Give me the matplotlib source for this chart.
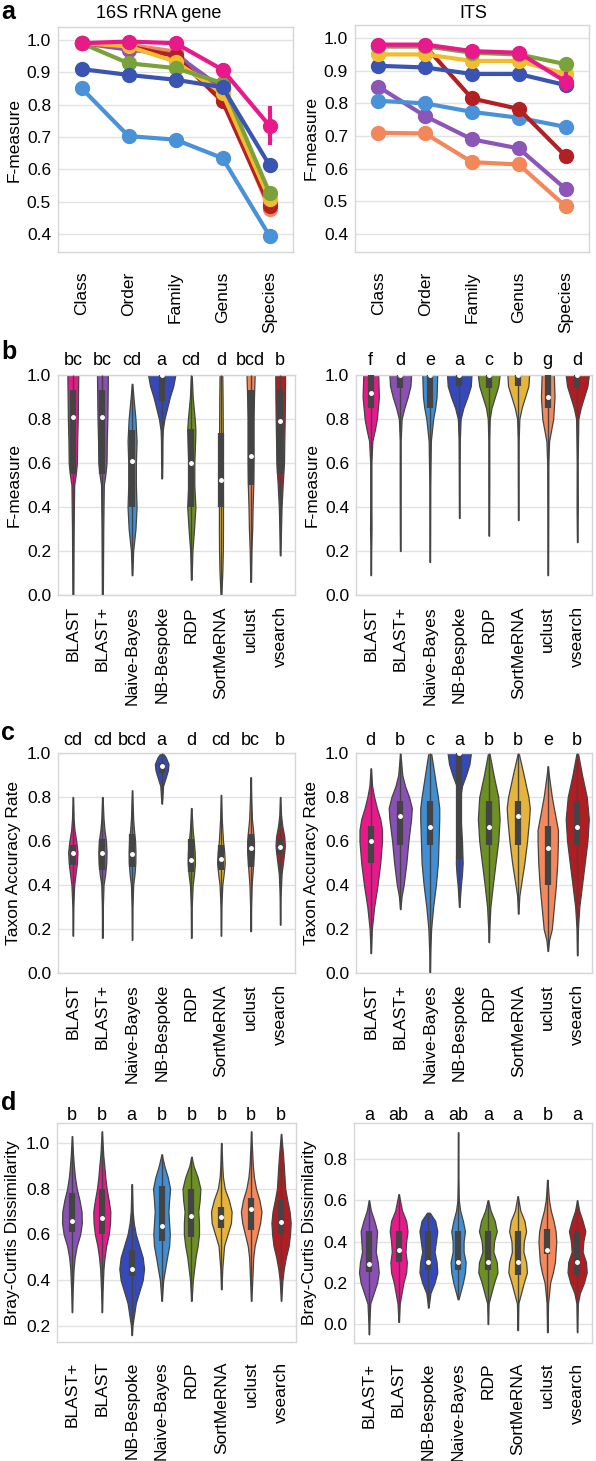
import numpy as np
import matplotlib
matplotlib.use('Agg')
import matplotlib.pyplot as plt

plt.rcParams['font.family'] = ['Liberation Sans', 'DejaVu Sans']

ranks = ['Class', 'Order', 'Family', 'Genus', 'Species']
methods = ['BLAST', 'BLAST+', 'Naive-Bayes', 'NB-Bespoke', 'RDP', 'SortMeRNA', 'uclust', 'vsearch']
methods_d = ['BLAST+', 'BLAST', 'NB-Bespoke', 'Naive-Bayes', 'RDP', 'SortMeRNA', 'uclust', 'vsearch']

pal = {'BLAST': '#e8198b', 'BLAST+': '#8a50b4', 'Naive-Bayes': '#3f8fd6',
       'NB-Bespoke': '#3649b8', 'RDP': '#6e8f22', 'SortMeRNA': '#e6b43c',
       'uclust': '#f4885a', 'vsearch': '#b01e23'}
line_pal = {'BLAST': '#e8198b', 'BLAST+': '#8c55b8', 'Naive-Bayes': '#4a92d8',
            'NB-Bespoke': '#3a54b4', 'RDP': '#7aa23a', 'SortMeRNA': '#f2bc2e',
            'uclust': '#f2875a', 'vsearch': '#b32024'}
EDGE = '#444444'

# ---- panel a: mean F-measure per rank
a16 = {
  'Naive-Bayes': [0.851, 0.703, 0.692, 0.635, 0.395],
  'uclust':      [0.99, 0.985, 0.964, 0.826, 0.477],
  'BLAST+':      [0.99, 0.97, 0.955, 0.85, 0.50],
  'vsearch':     [0.99, 0.98, 0.95, 0.81, 0.487],
  'SortMeRNA':   [0.99, 0.98, 0.933, 0.835, 0.508],
  'RDP':         [0.99, 0.928, 0.913, 0.867, 0.528],
  'NB-Bespoke':  [0.91, 0.892, 0.877, 0.854, 0.613],
  'BLAST':       [0.99, 0.995, 0.99, 0.908, 0.735],
}
a16_blast_err = [0.0, 0.008, 0.008, 0.02, 0.06]
aits = {
  'uclust':      [0.71, 0.708, 0.62, 0.613, 0.485],
  'BLAST+':      [0.851, 0.761, 0.69, 0.662, 0.538],
  'Naive-Bayes': [0.808, 0.80, 0.774, 0.756, 0.728],
  'vsearch':     [0.975, 0.975, 0.815, 0.783, 0.639],
  'NB-Bespoke':  [0.915, 0.91, 0.89, 0.89, 0.856],
  'SortMeRNA':   [0.95, 0.95, 0.93, 0.93, 0.89],
  'RDP':         [0.975, 0.975, 0.955, 0.95, 0.92],
  'BLAST':       [0.98, 0.98, 0.96, 0.955, 0.867],
}
aits_blast_err = [0.005, 0.005, 0.012, 0.012, 0.03]

# ---- panel b: F-measure violins (y, relative width)
b16_shape = [
  [(0.0, .03), (0.1, .04), (0.2, .05), (0.3, .06), (0.4, .08), (0.5, .1), (0.55, .22), (0.6, .3), (0.7, .32), (0.8, .36), (0.9, .38), (1.0, .4)],
  [(0.0, .03), (0.1, .04), (0.2, .05), (0.3, .06), (0.4, .08), (0.5, .1), (0.55, .22), (0.6, .3), (0.7, .32), (0.8, .36), (0.9, .38), (1.0, .4)],
  [(0.09, .02), (0.2, .08), (0.3, .25), (0.4, .33), (0.5, .28), (0.6, .28), (0.7, .33), (0.8, .25), (0.9, .1), (0.96, .02)],
  [(0.53, .02), (0.6, .04), (0.7, .05), (0.75, .08), (0.8, .2), (0.85, .4), (0.9, .6), (0.95, .85), (1.0, 1.0)],
  [(0.07, .02), (0.2, .08), (0.3, .2), (0.4, .3), (0.5, .22), (0.6, .22), (0.7, .28), (0.75, .3), (0.8, .25), (0.9, .1), (1.0, .03)],
  [(0.0, .03), (0.1, .1), (0.2, .14), (0.3, .15), (0.4, .15), (0.5, .14), (0.6, .14), (0.7, .14), (0.8, .13), (0.9, .12), (1.0, .1)],
  [(0.06, .02), (0.2, .06), (0.3, .12), (0.4, .15), (0.5, .2), (0.6, .22), (0.7, .22), (0.8, .22), (0.9, .25), (1.0, .3)],
  [(0.18, .02), (0.3, .06), (0.4, .1), (0.5, .18), (0.6, .28), (0.7, .3), (0.8, .33), (0.9, .35), (1.0, .36)],
]
b16_q1 = [0.55, 0.55, 0.40, 0.88, 0.40, 0.40, 0.50, 0.55]
b16_med = [0.81, 0.81, 0.61, 1.0, 0.60, 0.525, 0.63, 0.79]
b16_q3 = [0.93, 0.93, 0.75, 1.0, 0.755, 0.735, 0.93, 0.93]
b16_letters = ['bc', 'bc', 'cd', 'a', 'cd', 'd', 'bcd', 'b']

bits_shape = [
  [(0.09, .01), (0.2, .02), (0.3, .05), (0.4, .04), (0.6, .04), (0.7, .12), (0.75, .3), (0.8, .45), (0.9, .6), (1.0, .55)],
  [(0.2, .01), (0.3, .02), (0.5, .03), (0.7, .03), (0.8, .1), (0.85, .3), (0.9, .55), (0.95, .75), (1.0, .8)],
  [(0.15, .01), (0.3, .02), (0.5, .03), (0.7, .08), (0.8, .25), (0.85, .4), (0.9, .5), (1.0, .55)],
  [(0.35, .01), (0.5, .02), (0.7, .04), (0.8, .1), (0.85, .3), (0.9, .6), (0.95, .85), (1.0, .9)],
  [(0.27, .01), (0.5, .03), (0.7, .03), (0.8, .07), (0.85, .2), (0.9, .45), (0.95, .7), (1.0, .8)],
  [(0.34, .01), (0.5, .02), (0.7, .03), (0.8, .08), (0.85, .25), (0.9, .5), (0.95, .75), (1.0, .8)],
  [(0.09, .01), (0.2, .02), (0.4, .03), (0.6, .04), (0.7, .1), (0.75, .25), (0.8, .4), (0.9, .5), (1.0, .45)],
  [(0.24, .01), (0.4, .04), (0.6, .03), (0.8, .08), (0.85, .25), (0.9, .5), (0.95, .75), (1.0, .85)],
]
bits_q1 = [0.85, 0.94, 0.85, 0.95, 0.94, 0.95, 0.85, 0.94]
bits_med = [0.92, 1.0, 1.0, 1.0, 1.0, 1.0, 0.90, 1.0]
bits_q3 = [1.0, 1.0, 1.0, 1.0, 1.0, 1.0, 1.0, 1.0]
bits_letters = ['f', 'd', 'e', 'a', 'c', 'b', 'g', 'd']

# ---- panel c: taxon accuracy rate violins
c16_shape = [
  [(0.17, .01), (0.3, .03), (0.4, .1), (0.45, .2), (0.5, .3), (0.55, .34), (0.6, .25), (0.65, .12), (0.7, .06), (0.8, .01)],
  [(0.16, .01), (0.3, .03), (0.4, .08), (0.45, .2), (0.5, .28), (0.55, .3), (0.6, .26), (0.65, .15), (0.7, .08), (0.8, .01)],
  [(0.15, .01), (0.3, .03), (0.4, .08), (0.45, .18), (0.5, .24), (0.55, .25), (0.6, .22), (0.65, .14), (0.7, .08), (0.83, .01)],
  [(0.77, .01), (0.8, .05), (0.85, .1), (0.88, .25), (0.92, .45), (0.95, .5), (0.98, .3), (1.0, .08)],
  [(0.16, .01), (0.3, .03), (0.4, .1), (0.45, .2), (0.5, .27), (0.55, .25), (0.6, .18), (0.65, .1), (0.75, .01)],
  [(0.17, .01), (0.3, .03), (0.4, .1), (0.45, .2), (0.5, .28), (0.55, .24), (0.6, .15), (0.7, .06), (0.81, .01)],
  [(0.19, .01), (0.3, .03), (0.4, .08), (0.5, .2), (0.55, .25), (0.6, .25), (0.65, .18), (0.7, .1), (0.8, .04), (0.89, .01)],
  [(0.22, .01), (0.35, .03), (0.45, .1), (0.5, .2), (0.55, .3), (0.58, .34), (0.62, .3), (0.67, .15), (0.72, .06), (0.8, .01)],
]
c16_q1 = [0.49, 0.47, 0.48, 0.91, 0.46, 0.47, 0.48, 0.54]
c16_med = [0.545, 0.545, 0.54, 0.94, 0.515, 0.52, 0.57, 0.575]
c16_q3 = [0.58, 0.61, 0.63, 0.955, 0.61, 0.58, 0.63, 0.61]
c16_letters = ['cd', 'cd', 'bcd', 'a', 'd', 'cd', 'bc', 'b']

cits_shape = [
  [(0.09, .01), (0.2, .08), (0.3, .25), (0.4, .5), (0.5, .7), (0.6, .83), (0.65, .83), (0.7, .7), (0.75, .45), (0.8, .25), (0.85, .1), (0.93, .01)],
  [(0.29, .01), (0.35, .1), (0.4, .25), (0.5, .45), (0.6, .6), (0.7, .8), (0.75, .85), (0.8, .65), (0.85, .35), (0.9, .15), (1.0, .01)],
  [(0.0, .01), (0.1, .04), (0.2, .1), (0.3, .25), (0.4, .45), (0.5, .6), (0.6, .65), (0.7, .7), (0.75, .7), (0.8, .6), (0.9, .35), (1.0, .1)],
  [(0.3, .01), (0.4, .12), (0.45, .2), (0.5, .25), (0.6, .2), (0.7, .1), (0.8, .08), (0.85, .2), (0.9, .5), (0.95, .75), (1.0, .86)],
  [(0.14, .01), (0.2, .04), (0.3, .12), (0.4, .3), (0.5, .5), (0.6, .7), (0.7, .8), (0.8, .7), (0.9, .35), (1.0, .05)],
  [(0.27, .01), (0.35, .08), (0.4, .2), (0.5, .45), (0.6, .65), (0.7, .8), (0.75, .85), (0.8, .75), (0.9, .4), (1.0, .03)],
  [(0.1, .01), (0.15, .1), (0.2, .3), (0.3, .45), (0.4, .6), (0.5, .7), (0.6, .75), (0.65, .75), (0.7, .6), (0.8, .3), (0.9, .08), (0.94, .01)],
  [(0.08, .01), (0.2, .05), (0.3, .15), (0.4, .35), (0.5, .55), (0.6, .75), (0.7, .85), (0.8, .7), (0.9, .35), (1.0, .05)],
]
cits_q1 = [0.50, 0.58, 0.58, 0.52, 0.58, 0.58, 0.40, 0.58]
cits_med = [0.60, 0.715, 0.665, 1.0, 0.665, 0.715, 0.57, 0.665]
cits_q3 = [0.67, 0.78, 0.78, 1.0, 0.78, 0.78, 0.67, 0.78]
cits_letters = ['d', 'b', 'c', 'a', 'b', 'b', 'e', 'b']

# ---- panel d: Bray-Curtis dissimilarity violins (order = methods_d)
d16_shape = [
  [(0.26, .01), (0.35, .05), (0.45, .12), (0.5, .2), (0.55, .35), (0.6, .6), (0.65, .72), (0.7, .7), (0.75, .55), (0.8, .35), (0.85, .22), (0.9, .14), (0.95, .08), (1.03, .01)],
  [(0.26, .01), (0.35, .05), (0.45, .12), (0.5, .2), (0.55, .32), (0.6, .5), (0.65, .6), (0.7, .62), (0.75, .5), (0.8, .35), (0.85, .25), (0.9, .18), (0.95, .1), (1.05, .01)],
  [(0.16, .01), (0.2, .05), (0.3, .3), (0.35, .55), (0.4, .8), (0.45, .9), (0.5, .8), (0.55, .55), (0.6, .3), (0.65, .15), (0.7, .07), (0.82, .01)],
  [(0.31, .01), (0.4, .12), (0.5, .4), (0.55, .55), (0.6, .6), (0.65, .55), (0.7, .5), (0.75, .55), (0.8, .62), (0.85, .45), (0.9, .2), (0.95, .01)],
  [(0.31, .01), (0.4, .1), (0.5, .3), (0.55, .45), (0.6, .55), (0.65, .55), (0.7, .5), (0.75, .6), (0.8, .65), (0.85, .45), (0.9, .15), (0.94, .01)],
  [(0.36, .01), (0.45, .07), (0.55, .2), (0.6, .45), (0.65, .7), (0.7, .75), (0.75, .55), (0.8, .25), (0.85, .12), (0.9, .07), (1.0, .01)],
  [(0.31, .01), (0.4, .08), (0.5, .15), (0.55, .25), (0.6, .45), (0.65, .65), (0.7, .75), (0.75, .6), (0.8, .35), (0.85, .2), (0.9, .12), (1.0, .04), (1.05, .01)],
  [(0.31, .01), (0.4, .1), (0.45, .2), (0.5, .35), (0.55, .55), (0.6, .65), (0.65, .7), (0.7, .62), (0.75, .45), (0.8, .3), (0.85, .25), (0.9, .2), (0.95, .14), (1.04, .01)],
]
d16_q1 = [0.61, 0.60, 0.42, 0.57, 0.59, 0.63, 0.62, 0.60]
d16_med = [0.66, 0.67, 0.45, 0.635, 0.68, 0.675, 0.71, 0.655]
d16_q3 = [0.78, 0.80, 0.53, 0.81, 0.80, 0.72, 0.76, 0.75]
d16_letters = ['b', 'b', 'a', 'b', 'b', 'b', 'b', 'b']

dits_shape = [
  [(-0.05, .01), (0.0, .03), (0.1, .1), (0.15, .35), (0.2, .6), (0.25, .72), (0.3, .65), (0.35, .5), (0.4, .55), (0.45, .6), (0.5, .4), (0.55, .15), (0.6, .01)],
  [(0.01, .01), (0.1, .08), (0.2, .35), (0.25, .55), (0.3, .6), (0.35, .5), (0.4, .55), (0.45, .65), (0.5, .55), (0.55, .25), (0.63, .01)],
  [(0.08, .01), (0.15, .15), (0.2, .45), (0.25, .65), (0.3, .6), (0.35, .45), (0.4, .55), (0.45, .65), (0.5, .5), (0.54, .1)],
  [(0.12, .03), (0.15, .15), (0.2, .35), (0.25, .5), (0.3, .55), (0.35, .4), (0.4, .4), (0.45, .5), (0.5, .35), (0.55, .15), (0.6, .05), (0.7, .02), (0.93, .01)],
  [(0.0, .01), (0.1, .05), (0.2, .45), (0.25, .7), (0.3, .65), (0.35, .4), (0.4, .45), (0.45, .65), (0.5, .5), (0.55, .2), (0.6, .02)],
  [(-0.03, .01), (0.1, .05), (0.2, .45), (0.25, .68), (0.3, .62), (0.35, .42), (0.4, .45), (0.45, .62), (0.5, .5), (0.55, .2), (0.62, .01)],
  [(-0.04, .01), (0.1, .05), (0.2, .2), (0.25, .4), (0.3, .55), (0.35, .6), (0.4, .65), (0.45, .6), (0.5, .45), (0.55, .25), (0.6, .12), (0.65, .06), (0.7, .01)],
  [(-0.04, .01), (0.1, .05), (0.15, .2), (0.2, .5), (0.25, .7), (0.3, .65), (0.35, .4), (0.4, .45), (0.45, .6), (0.5, .4), (0.55, .15), (0.6, .01)],
]
dits_q1 = [0.25, 0.30, 0.26, 0.26, 0.26, 0.24, 0.34, 0.24]
dits_med = [0.29, 0.36, 0.30, 0.30, 0.30, 0.30, 0.36, 0.30]
dits_q3 = [0.45, 0.45, 0.45, 0.45, 0.45, 0.45, 0.46, 0.45]
dits_letters = ['a', 'ab', 'a', 'ab', 'a', 'a', 'b', 'a']

W, H = 596, 1461
fig = plt.figure(figsize=(W / 100, H / 100), dpi=100)


def px_axes(x0, y0, x1, y1):
  return fig.add_axes([x0 / W, 1 - y1 / H, (x1 - x0) / W, (y1 - y0) / H])


def style(ax, ylim, yticks, ylabel, xlabels, xpad):
  ax.set_facecolor('white')
  for s in ax.spines.values():
    s.set_color('#d6d6d6')
    s.set_linewidth(1.0)
  ax.set_ylim(*ylim)
  ax.set_yticks(yticks)
  ax.set_yticklabels(['%.1f' % t for t in yticks], fontsize=12.5)
  ax.yaxis.grid(True, color='#e2e2e2', lw=1.0)
  ax.set_axisbelow(True)
  ax.tick_params(length=0, pad=5)
  ax.tick_params(axis='x', pad=xpad)
  ax.set_xticks(range(len(xlabels)))
  ax.set_xticklabels(xlabels, rotation=90, fontsize=12.5)
  ax.set_xlim(-0.5, len(xlabels) - 0.5)
  ax.set_ylabel(ylabel, fontsize=12.5, labelpad=4)


def lines(ax, series, err):
  x = np.arange(len(ranks))
  for name, vals in series.items():
    ax.plot(x, vals, '-o', color=line_pal[name], lw=3, ms=10, zorder=3)
  ax.errorbar(x, series['BLAST'], yerr=err, fmt='none', ecolor=line_pal['BLAST'],
              elinewidth=3, zorder=4)


def violins(ax, shapes, q1, med, q3, names, letters, lety):
  stats = []
  for shp, m in zip(shapes, med):
    ys = np.array([p[0] for p in shp])
    ws = np.array([p[1] for p in shp])
    stats.append(dict(coords=ys, vals=ws, mean=m, median=m, min=ys.min(), max=ys.max()))
  widths = [0.92 * max(p[1] for p in shp) for shp in shapes]
  parts = ax.violin(stats, positions=range(len(shapes)), widths=widths,
                    showmeans=False, showextrema=False, showmedians=False)
  for body, n in zip(parts['bodies'], names):
    body.set_facecolor(pal[n])
    body.set_edgecolor(EDGE)
    body.set_linewidth(0.9)
    body.set_alpha(1)
  for i, shp in enumerate(shapes):
    ys = [p[0] for p in shp]
    ax.vlines(i, min(ys), max(ys), color=EDGE, lw=1, zorder=3)
    ax.vlines(i, q1[i], q3[i], color=EDGE, lw=4.5, zorder=3)
    ax.plot(i, med[i], 'o', color='white', ms=2.5, zorder=4)
    ax.text(i, lety, letters[i], transform=ax.get_xaxis_transform(),
            ha='center', va='baseline', fontsize=13)


# panel a
ax = px_axes(58, 27, 293, 252)
style(ax, (0.345, 1.04), [0.4, 0.5, 0.6, 0.7, 0.8, 0.9, 1.0], 'F-measure', ranks, 14)
lines(ax, a16, a16_blast_err)
ax = px_axes(355, 25, 589, 252)
style(ax, (0.345, 1.04), [0.4, 0.5, 0.6, 0.7, 0.8, 0.9, 1.0], 'F-measure', ranks, 14)
lines(ax, aits, aits_blast_err)
fig.text(159 / W, 1 - 14 / H, '16S rRNA gene', ha='center', va='center', fontsize=13)
fig.text(473 / W, 1 - 14 / H, 'ITS', ha='center', va='center', fontsize=13)

# panel b
ax = px_axes(58, 375, 295, 595)
style(ax, (0, 1.0), [0.0, 0.2, 0.4, 0.6, 0.8, 1.0], 'F-measure', methods, 8)
violins(ax, b16_shape, b16_q1, b16_med, b16_q3, methods, b16_letters, 1.045)
ax = px_axes(356, 375, 592, 595)
style(ax, (0, 1.0), [0.0, 0.2, 0.4, 0.6, 0.8, 1.0], 'F-measure', methods, 8)
violins(ax, bits_shape, bits_q1, bits_med, bits_q3, methods, bits_letters, 1.045)

# panel c
ax = px_axes(58, 753, 295, 973)
style(ax, (0, 1.0), [0.0, 0.2, 0.4, 0.6, 0.8, 1.0], 'Taxon Accuracy Rate', methods, 8)
violins(ax, c16_shape, c16_q1, c16_med, c16_q3, methods, c16_letters, 1.036)
ax = px_axes(356, 753, 592, 973)
style(ax, (0, 1.0), [0.0, 0.2, 0.4, 0.6, 0.8, 1.0], 'Taxon Accuracy Rate', methods, 8)
violins(ax, cits_shape, cits_q1, cits_med, cits_q3, methods, cits_letters, 1.036)

# panel d
ax = px_axes(57, 1123, 296, 1342)
style(ax, (0.13, 1.087), [0.2, 0.4, 0.6, 0.8, 1.0], 'Bray-Curtis Dissimilarity', methods_d, 14)
violins(ax, d16_shape, d16_q1, d16_med, d16_q3, methods_d, d16_letters, 1.015)
ax = px_axes(354, 1123, 592, 1343)
style(ax, (-0.092, 0.975), [0.0, 0.2, 0.4, 0.6, 0.8], 'Bray-Curtis Dissimilarity', methods_d, 14)
violins(ax, dits_shape, dits_q1, dits_med, dits_q3, methods_d, dits_letters, 1.015)

for lab, y in [('a', 12), ('b', 352), ('c', 733), ('d', 1103)]:
  fig.text(1 / W, 1 - y / H, lab, fontsize=18, fontweight='bold', va='center', ha='left')

fig.savefig('out.png', dpi=100)
